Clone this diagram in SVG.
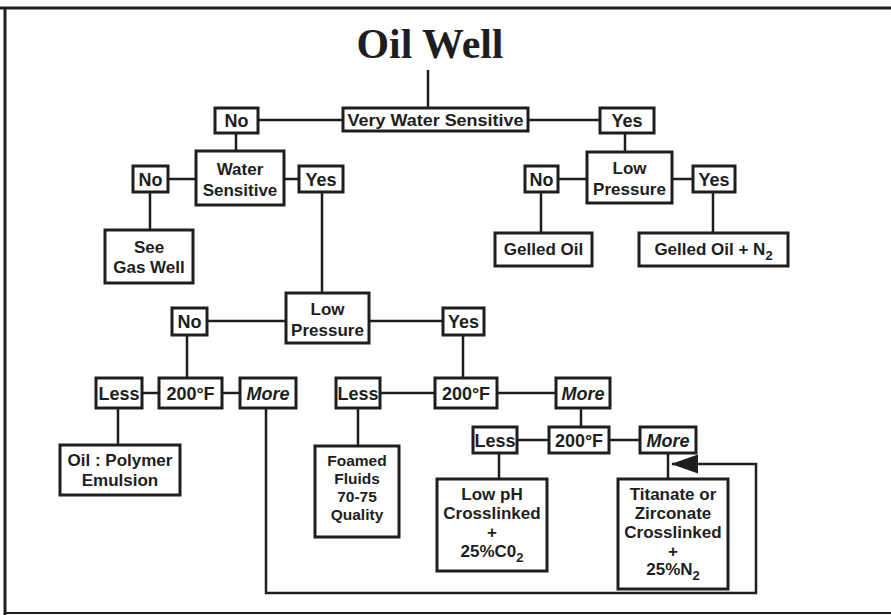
<svg xmlns="http://www.w3.org/2000/svg" width="891" height="615" viewBox="0 0 891 615">
<defs>
<style>
.box{fill:#fff;stroke:#1e1e1e;stroke-width:3}
.ln{fill:none;stroke:#1e1e1e;stroke-width:2.5}
.fr{fill:none;stroke:#1e1e1e;stroke-width:3}
.t{font-family:"Liberation Sans",Arial,sans-serif;font-weight:bold;font-size:17px;fill:#1e1e1e;text-anchor:middle}
.s{font-size:18px}
.f{font-size:15.5px}
.it{font-style:italic}
.title{font-family:"Liberation Serif","Times New Roman",serif;font-weight:bold;font-size:42px;fill:#1e1e1e;text-anchor:middle}
</style>
<marker id="arr" markerUnits="userSpaceOnUse" markerWidth="28" markerHeight="20" viewBox="0 0 28 20" refX="26" refY="10" orient="auto">
<path d="M0,0.5 L27,10 L0,19.5 z" fill="#1e1e1e"/>
</marker>
</defs>
<rect x="0" y="0" width="891" height="615" fill="#fff"/>
<g id="frame">
<path class="fr" d="M0,8 H891"/>
<path class="fr" d="M5,8 V615"/>
<path class="fr" d="M5,613 H891" style="stroke-width:2"/>
</g>
<text class="title" x="430" y="58" textLength="147" lengthAdjust="spacingAndGlyphs">Oil Well</text>
<g id="connectors">
<path class="ln" d="M428,70 V108"/>
<path class="ln" d="M258,120 H343"/>
<path class="ln" d="M528,120 H600"/>
<path class="ln" d="M236,133 V151"/>
<path class="ln" d="M168,179 H196"/>
<path class="ln" d="M284,179 H299"/>
<path class="ln" d="M150,192 V230"/>
<path class="ln" d="M322,192 V293"/>
<path class="ln" d="M207,321 H286"/>
<path class="ln" d="M369,321 H443"/>
<path class="ln" d="M187,335 V378"/>
<path class="ln" d="M463,335 V378"/>
<path class="ln" d="M142,393 H159"/>
<path class="ln" d="M222,393 H240"/>
<path class="ln" d="M380,393 H435"/>
<path class="ln" d="M497,393 H556"/>
<path class="ln" d="M118,408 V445"/>
<path class="ln" d="M358,408 V446"/>
<path class="ln" d="M581,408 V427"/>
<path class="ln" d="M517,440 H549"/>
<path class="ln" d="M609,440 H640"/>
<path class="ln" d="M499,453 V479"/>
<path class="ln" d="M668,453 V479"/>
<path class="ln" d="M625,133 V152"/>
<path class="ln" d="M558,179 H587"/>
<path class="ln" d="M672,179 H693"/>
<path class="ln" d="M541,192 V233"/>
<path class="ln" d="M713,192 V233"/>
<path class="ln" d="M266,408 V593 H756 V464 H672" marker-end="url(#arr)"/>
</g>
<g id="n_vws"><rect class="box" x="343" y="108" width="185" height="23"/><text class="t" x="435.5" y="125.5" textLength="176" lengthAdjust="spacingAndGlyphs">Very Water Sensitive</text></g>
<g id="n_no1"><rect class="box" x="215" y="108" width="43" height="25"/><text class="t s" x="236.5" y="127">No</text></g>
<g id="n_yes1"><rect class="box" x="600" y="108" width="54" height="25"/><text class="t s" x="627" y="127">Yes</text></g>
<g id="n_ws"><rect class="box" x="196" y="151" width="88" height="54"/><text class="t" x="240" y="175">Water</text><text class="t" x="240" y="196">Sensitive</text></g>
<g id="n_no2"><rect class="box" x="133" y="166" width="35" height="26"/><text class="t s" x="150.5" y="185.5">No</text></g>
<g id="n_yes2"><rect class="box" x="299" y="166" width="44" height="26"/><text class="t s" x="321" y="185.5">Yes</text></g>
<g id="n_gas"><rect class="box" x="105" y="230" width="88" height="53"/><text class="t" x="149" y="253">See</text><text class="t" x="149" y="273">Gas Well</text></g>
<g id="n_lp1"><rect class="box" x="286" y="293" width="83" height="50"/><text class="t" x="327.5" y="315">Low</text><text class="t" x="327.5" y="336">Pressure</text></g>
<g id="n_no3"><rect class="box" x="172" y="308" width="35" height="27"/><text class="t s" x="189.5" y="328">No</text></g>
<g id="n_yes3"><rect class="box" x="443" y="308" width="41" height="27"/><text class="t s" x="463.5" y="328">Yes</text></g>
<g id="n_less1"><rect class="box" x="96" y="378" width="46" height="30"/><text class="t s" x="119" y="399.5">Less</text></g>
<g id="n_t1"><rect class="box" x="159" y="378" width="63" height="30"/><text class="t s" x="190.5" y="399.5">200°F</text></g>
<g id="n_more1"><rect class="box" x="240" y="378" width="56" height="30"/><text class="t s it" x="268" y="399.5">More</text></g>
<g id="n_oil"><rect class="box" x="60" y="445" width="120" height="50"/><text class="t" x="120" y="466">Oil : Polymer</text><text class="t" x="120" y="486">Emulsion</text></g>
<g id="n_less2"><rect class="box" x="336" y="378" width="44" height="30"/><text class="t s" x="358" y="399.5">Less</text></g>
<g id="n_t2"><rect class="box" x="435" y="378" width="62" height="30"/><text class="t s" x="466" y="399.5">200°F</text></g>
<g id="n_more2"><rect class="box" x="556" y="378" width="54" height="30"/><text class="t s it" x="583" y="399.5">More</text></g>
<g id="n_foam"><rect class="box" x="315" y="446" width="84" height="91"/><text class="t f" x="357" y="466">Foamed</text><text class="t f" x="357" y="484">Fluids</text><text class="t f" x="357" y="502">70-75</text><text class="t f" x="357" y="520">Quality</text></g>
<g id="n_less3"><rect class="box" x="473" y="427" width="44" height="26"/><text class="t s" x="495" y="446.5">Less</text></g>
<g id="n_t3"><rect class="box" x="549" y="427" width="60" height="26"/><text class="t s" x="579" y="446.5">200°F</text></g>
<g id="n_more3"><rect class="box" x="640" y="427" width="56" height="26"/><text class="t s it" x="668" y="446.5">More</text></g>
<g id="n_lowph"><rect class="box" x="437" y="479" width="110" height="92"/><text class="t" x="492" y="500">Low pH</text><text class="t" x="492" y="519">Crosslinked</text><text class="t" x="492" y="538">+</text><text class="t" x="492" y="557">25%C0<tspan font-size="13" dy="5">2</tspan></text></g>
<g id="n_tit"><rect class="box" x="618" y="479" width="110" height="110"/><text class="t" x="673" y="500">Titanate or</text><text class="t" x="673" y="519">Zirconate</text><text class="t" x="673" y="538">Crosslinked</text><text class="t" x="673" y="557">+</text><text class="t" x="673" y="575">25%N<tspan font-size="13" dy="5">2</tspan></text></g>
<g id="n_lp2"><rect class="box" x="587" y="152" width="85" height="51"/><text class="t" x="629.5" y="174">Low</text><text class="t" x="629.5" y="195">Pressure</text></g>
<g id="n_no4"><rect class="box" x="525" y="166" width="33" height="26"/><text class="t s" x="541.5" y="185.5">No</text></g>
<g id="n_yes4"><rect class="box" x="693" y="166" width="42" height="26"/><text class="t s" x="714" y="185.5">Yes</text></g>
<g id="n_go"><rect class="box" x="495" y="233" width="97" height="33"/><text class="t" x="543.5" y="255">Gelled Oil</text></g>
<g id="n_gon2"><rect class="box" x="639" y="233" width="149" height="33"/><text class="t" x="713.5" y="255">Gelled Oil + N<tspan font-size="13" dy="5">2</tspan></text></g>
</svg>
